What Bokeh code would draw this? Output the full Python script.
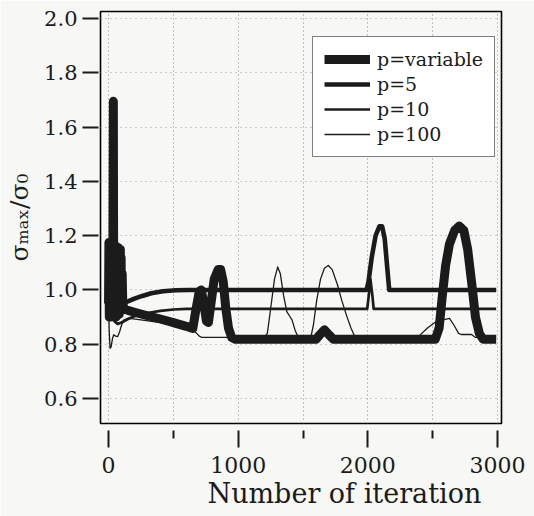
from bokeh.plotting import figure
from bokeh.models import Range1d, FixedTicker, PrintfTickFormatter, Legend, LegendItem, Title
from bokeh.embed import file_html
from bokeh.resources import INLINE

# ---------------- data ----------------
var_iter = [0, 3, 6, 9, 12, 15, 18, 21, 24, 27, 30, 34, 37, 40, 43, 46, 49, 52, 55, 58, 61, 64,
            67, 70, 73, 76, 79, 82, 85, 88, 91, 94, 97, 100, 105, 110, 120, 150, 200, 300, 400,
            500, 600, 650, 675, 700, 715, 735, 755, 770, 790, 815, 845, 865, 885, 905, 925, 950,
            980, 1600, 1630, 1665, 1700, 1735, 2520, 2550, 2575, 2600, 2630, 2670, 2705, 2740,
            2770, 2800, 2830, 2860, 2890, 2990]
var_val = [0.95, 1.175, 0.90, 1.175, 0.92, 1.175, 0.90, 1.175, 0.93, 1.17, 0.92, 1.17, 1.695,
           0.93, 1.16, 0.90, 1.16, 0.92, 1.16, 0.90, 1.16, 0.92, 1.155, 0.91, 1.155, 0.92, 1.155,
           0.91, 1.15, 0.92, 1.15, 0.93, 1.12, 0.94, 1.06, 0.95, 0.93, 0.925, 0.918, 0.905,
           0.893, 0.88, 0.866, 0.858, 0.93, 0.995, 1.0, 0.95, 0.885, 0.88, 0.95, 1.04, 1.075,
           1.075, 1.03, 0.93, 0.86, 0.825, 0.818, 0.818, 0.835, 0.853, 0.835, 0.818, 0.818,
           0.86, 0.98, 1.09, 1.17, 1.22, 1.235, 1.22, 1.15, 1.03, 0.90, 0.84, 0.818, 0.818]

p5_iter = [0, 10, 25, 45, 70, 100, 150, 200, 260, 330, 420, 520, 620, 1990, 2005, 2030, 2060,
           2090, 2110, 2130, 2150, 2165, 2990]
p5_val = [1.0, 1.12, 1.0, 0.97, 0.955, 0.95, 0.958, 0.968, 0.978, 0.988, 0.995, 0.999, 1.0, 1.0,
          1.03, 1.12, 1.2, 1.235, 1.235, 1.19, 1.08, 1.0, 1.0]

p10_iter = [0, 20, 45, 70, 100, 150, 200, 300, 400, 500, 600, 1995, 2005, 2020, 2035, 2045, 2990]
p10_val = [0.97, 0.92, 0.885, 0.875, 0.88, 0.893, 0.903, 0.915, 0.923, 0.928, 0.93, 0.93, 0.97,
           1.04, 0.98, 0.93, 0.93]

p100_iter = [0, 6, 12, 20, 30, 40, 55, 70, 85, 100, 120, 160, 250, 400, 550, 640, 700, 720, 1200,
             1225, 1250, 1280, 1305, 1325, 1350, 1375, 1395, 1415, 1440, 1465, 1560, 1580, 1605,
             1635, 1665, 1695, 1725, 1765, 1800, 1840, 1870, 1900, 2390, 2460, 2530, 2580, 2630,
             2665, 2700, 2720, 2800, 2830, 2990]
p100_val = [0.95, 0.84, 0.785, 0.79, 0.82, 0.835, 0.83, 0.828, 0.845, 0.87, 0.89, 0.895, 0.89,
            0.88, 0.868, 0.86, 0.83, 0.825, 0.825, 0.84, 0.93, 1.04, 1.085, 1.06, 0.98, 0.92,
            0.905, 0.89, 0.85, 0.825, 0.825, 0.87, 0.96, 1.04, 1.08, 1.09, 1.075, 1.02, 0.96,
            0.90, 0.86, 0.828, 0.828, 0.86, 0.885, 0.89, 0.895, 0.87, 0.84, 0.836, 0.836, 0.825,
            0.825]

x_major = [0, 1000, 2000, 3000]
x_minor = [500, 1500, 2500]
y_ticks = [0.6, 0.8, 1.0, 1.2, 1.4, 1.6, 1.8, 2.0]
series_labels = ["p=variable", "p=5", "p=10", "p=100"]
x_title = "Number of iteration"
y_title = "σₘₐₓ/σ₀"

# ---------------- figure ----------------
INK = "#1b1b1b"
SERIF = "DejaVu Serif"
BG = "#f7f7f5"

p = figure(width=534, height=516, output_backend="svg", toolbar_location=None,
           x_range=Range1d(-62, 3031), y_range=Range1d(0.508, 2.026),
           min_border_left=100, min_border_right=33, min_border_top=11, min_border_bottom=93,
           background_fill_color=BG, border_fill_color=BG)
p.outline_line_color = "black"
p.outline_line_width = 1.6
p.outline_line_alpha = 1

# x axis: ticks detached below the frame
xa = p.xaxis[0]
xa.ticker = FixedTicker(ticks=x_major, minor_ticks=x_minor)
xa.axis_line_color = None
xa.major_tick_in = -7
xa.major_tick_out = 24
xa.minor_tick_in = -7
xa.minor_tick_out = 15
xa.major_tick_line_width = 2
xa.minor_tick_line_width = 2
xa.major_tick_line_color = INK
xa.minor_tick_line_color = INK
xa.major_label_text_font = SERIF
xa.major_label_text_font_size = "22px"
xa.major_label_text_color = INK
xa.major_label_standoff = 9

ya = p.yaxis[0]
ya.ticker = FixedTicker(ticks=y_ticks)
ya.formatter = PrintfTickFormatter(format="%.1f")
ya.axis_line_color = None
ya.major_tick_in = -2
ya.major_tick_out = 18
ya.minor_tick_line_color = None
ya.major_tick_line_width = 2
ya.major_tick_line_color = INK
ya.major_label_text_font = SERIF
ya.major_label_text_font_size = "21px"
ya.major_label_text_color = INK
ya.major_label_standoff = 5
ya.axis_label = y_title
ya.axis_label_text_font = SERIF
ya.axis_label_text_font_size = "25px"
ya.axis_label_text_font_style = "normal"
ya.axis_label_text_color = INK
ya.axis_label_standoff = 7

p.xgrid.ticker = FixedTicker(ticks=sorted(x_major + x_minor))
p.xgrid.grid_line_color = "#8a8a8a"
p.xgrid.grid_line_dash = "1 3"
p.xgrid.grid_line_width = 1
p.ygrid.ticker = FixedTicker(ticks=y_ticks)
p.ygrid.grid_line_color = "#a0a0a0"
p.ygrid.grid_line_dash = "1 4"
p.ygrid.grid_line_width = 1

# ---------------- lines ----------------
r100 = p.line(p100_iter, p100_val, line_width=1.3, line_color=INK, line_join="round")
r10 = p.line(p10_iter, p10_val, line_width=2.7, line_color=INK, line_join="round")
r5 = p.line(p5_iter, p5_val, line_width=4.6, line_color=INK, line_join="round")
rv = p.line(var_iter, var_val, line_width=9, line_color=INK, line_join="round")

legend = Legend(items=[LegendItem(label=series_labels[0], renderers=[rv]),
                       LegendItem(label=series_labels[1], renderers=[r5]),
                       LegendItem(label=series_labels[2], renderers=[r10]),
                       LegendItem(label=series_labels[3], renderers=[r100])],
                location=(212, 266), margin=0, padding=11, spacing=3,
                glyph_width=46, glyph_height=20, label_height=20, label_standoff=7,
                label_text_font=SERIF, label_text_font_size="19px", label_text_color=INK,
                border_line_color="black", border_line_width=1.6,
                background_fill_color="white", background_fill_alpha=1)
p.add_layout(legend)

# ---------------- x title (shifted right as in the reference) ----------------
p.add_layout(Title(text=x_title, align="left", offset=107, text_font=SERIF,
                   text_font_size="27px", text_font_style="normal", text_color=INK,
                   standoff=0), "below")

open("out.html", "w").write(file_html(p, INLINE))
